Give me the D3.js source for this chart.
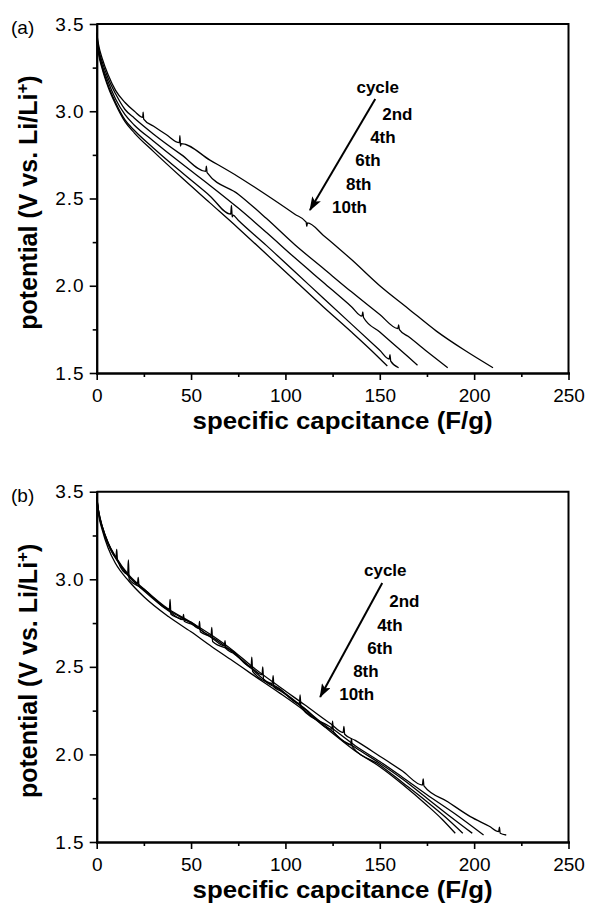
<!DOCTYPE html>
<html>
<head>
<meta charset="utf-8">
<script src="https://cdn.jsdelivr.net/npm/d3@7"></script>
<style>
  body { margin: 0; background: #fff; }
  svg { display: block; }
  text { font-family: "Liberation Sans", Arial, Helvetica, sans-serif; }
</style>
</head>
<body>
<svg id="chart" width="589" height="905"></svg>
<script>
// cycle labels and tick values
var cycles = ["2nd", "4th", "6th", "8th", "10th"];
var xTicks = [0, 50, 100, 150, 200, 250];
var xMinor = [25, 75, 125, 175, 225];
var yTicks = [1.5, 2.0, 2.5, 3.0, 3.5];
var yMinor = [1.75, 2.25, 2.75, 3.25];

// panel (a): [capacitance F/g, potential V]
var a2nd = [[0,3.45],[1,3.38],[3,3.30],[6,3.21],[10,3.12],[15,3.05],[20,3.00],[24.4,2.965],[24.6,2.995],[24.9,2.955],[30,2.915],[37,2.865],[43.8,2.82],[44.1,2.86],[44.4,2.80],[44.8,2.815],[60,2.72],[75,2.625],[90,2.52],[105,2.41],[111,2.365],[111.3,2.34],[111.7,2.36],[120,2.29],[135,2.15],[150,2.00],[165,1.87],[180,1.74],[195,1.63],[210,1.53]];
var a4th = [[0,3.44],[1,3.36],[3,3.28],[6,3.19],[10,3.10],[15,3.01],[20,2.96],[30,2.87],[45,2.75],[57.8,2.655],[58.1,2.685],[58.5,2.648],[75,2.525],[90,2.385],[105,2.235],[120,2.10],[135,1.965],[150,1.835],[159.6,1.755],[160,1.775],[160.4,1.748],[165,1.71],[176,1.615],[186,1.53]];
var a6th = [[0,3.43],[1,3.35],[3,3.26],[6,3.17],[10,3.07],[15,2.98],[20,2.92],[30,2.83],[45,2.70],[60,2.575],[75,2.445],[90,2.305],[105,2.16],[120,2.02],[135,1.88],[140.6,1.826],[141,1.85],[141.4,1.818],[150,1.735],[160,1.64],[170,1.545]];
var a8th = [[0,3.42],[1,3.34],[3,3.25],[6,3.15],[10,3.05],[15,2.95],[20,2.89],[30,2.79],[45,2.65],[60,2.515],[71,2.41],[71.4,2.46],[71.8,2.395],[72.2,2.405],[75,2.375],[90,2.23],[105,2.08],[120,1.93],[135,1.78],[150,1.63],[155,1.58],[155.4,1.605],[155.8,1.568],[160,1.53]];
var a10th = [[0,3.42],[1,3.33],[3,3.24],[6,3.14],[10,3.04],[15,2.94],[20,2.875],[30,2.77],[45,2.62],[60,2.475],[75,2.33],[90,2.18],[105,2.03],[120,1.88],[135,1.735],[145,1.635],[154,1.54]];

// panel (b)
var b2nd = [[0,3.47],[1,3.39],[3,3.30],[6,3.21],[10,3.13],[17,3.025],[25,2.945],[38,2.83],[50,2.755],[61,2.68],[72,2.595],[82,2.505],[97,2.385],[110,2.285],[124,2.175],[130.6,2.125],[131,2.16],[131.4,2.115],[137,2.08],[150,1.99],[162,1.905],[172.6,1.825],[173,1.86],[173.4,1.82],[186,1.73],[198,1.645],[208,1.59],[213,1.56],[213.4,1.585],[213.8,1.55],[217,1.54]];
var b4th = [[0,3.47],[1,3.39],[3,3.30],[6,3.21],[10.2,3.125],[10.6,3.17],[11,3.11],[16.4,3.03],[16.8,3.11],[17.2,3.00],[25,2.945],[38.5,2.83],[38.9,2.885],[39.3,2.80],[50,2.755],[60.6,2.68],[61,2.725],[61.4,2.645],[72,2.59],[81.8,2.50],[82.2,2.555],[82.6,2.475],[97,2.375],[107.4,2.29],[107.8,2.34],[108.2,2.27],[124,2.155],[137,2.05],[150,1.96],[162,1.87],[175,1.77],[190,1.66],[205,1.54]];
var b6th = [[0,3.47],[1,3.385],[3,3.295],[6,3.205],[10,3.125],[17,3.02],[21.6,2.975],[22,3.01],[22.4,2.965],[25,2.94],[38,2.825],[50,2.75],[54.1,2.72],[54.5,2.76],[54.9,2.70],[61,2.67],[72,2.585],[82,2.495],[87.6,2.455],[88,2.50],[88.4,2.43],[97,2.37],[110,2.265],[124.6,2.145],[125,2.19],[125.4,2.13],[137,2.04],[150,1.95],[162,1.86],[175,1.75],[188,1.64],[199,1.55]];
var b8th = [[0,3.46],[1,3.38],[3,3.29],[6,3.20],[10,3.12],[17,3.015],[25,2.935],[38,2.82],[45.6,2.77],[46,2.80],[46.4,2.76],[50,2.745],[61,2.665],[67.6,2.62],[68,2.65],[68.4,2.605],[72,2.58],[82,2.49],[93.1,2.405],[93.5,2.45],[93.9,2.385],[97,2.365],[110,2.26],[124,2.14],[134.6,2.055],[135,2.09],[135.4,2.045],[150,1.94],[162,1.84],[175,1.73],[185,1.64],[194,1.55]];
var b10th = [[0,3.46],[1,3.37],[3,3.28],[6,3.18],[10,3.09],[17,2.99],[25,2.90],[38,2.787],[50,2.70],[61,2.615],[72,2.535],[82,2.46],[97,2.35],[110,2.25],[124,2.13],[137,2.02],[150,1.93],[162,1.83],[175,1.71],[183,1.63],[190,1.55]];

var svg = d3.select("#chart");

svg.append("defs").append("marker")
  .attr("id", "head")
  .attr("markerUnits", "userSpaceOnUse")
  .attr("markerWidth", 14).attr("markerHeight", 10)
  .attr("viewBox", "0 0 14 10")
  .attr("refX", 13).attr("refY", 5)
  .attr("orient", "auto")
  .append("path").attr("d", "M0,0 L14,5 L0,10 L3,5 Z").attr("fill", "#000");

function drawPanel(p) {
  var x = d3.scaleLinear().domain([0, 250]).range([p.left, p.right]);
  var y = d3.scaleLinear().domain([1.5, 3.5]).range([p.bottom, p.top]);
  var g = svg.append("g");

  // curves
  var line = d3.line()
    .x(function (d) { return x(d[0]); })
    .y(function (d) { return y(d[1]); })
    .curve(d3.curveMonotoneX);
  g.append("g")
    .selectAll("path")
    .data(p.series)
    .enter()
    .append("path")
    .attr("d", line)
    .attr("fill", "none")
    .attr("stroke", "#000")
    .attr("stroke-width", 1.3);

  // frame (top + right)
  g.append("path")
    .attr("d", "M" + x(0) + "," + y(3.5) + "H" + x(250) + "V" + y(1.5))
    .attr("fill", "none").attr("stroke", "#000").attr("stroke-width", 2);

  // axes
  g.append("g").attr("transform", "translate(0," + y(1.5) + ")")
    .call(d3.axisBottom(x).tickValues(xTicks).tickSize(7).tickPadding(9).tickSizeOuter(0));
  g.append("g").attr("transform", "translate(0," + y(1.5) + ")")
    .call(d3.axisBottom(x).tickValues(xMinor).tickSize(4).tickFormat("").tickSizeOuter(0));
  var ya = g.append("g").attr("transform", "translate(" + x(0) + ",0)")
    .call(d3.axisLeft(y).tickValues(yTicks).tickSize(7).tickPadding(5).tickSizeOuter(0)
      .tickFormat(d3.format(".1f")));
  g.append("g").attr("transform", "translate(" + x(0) + ",0)")
    .call(d3.axisLeft(y).tickValues(yMinor).tickSize(4).tickFormat("").tickSizeOuter(0));
  g.selectAll(".domain").attr("stroke-width", 2).attr("stroke-linecap", "square");
  g.selectAll(".tick line").attr("stroke-width", 1.6);
  g.selectAll(".tick text").attr("font-size", 19).attr("font-family", "Liberation Sans, Arial, sans-serif");
  ya.selectAll(".tick text").attr("letter-spacing", 1);

  // axis titles
  g.append("text")
    .attr("x", (x(0) + x(250)) / 2 + 10)
    .attr("y", y(1.5) + 56)
    .attr("text-anchor", "middle")
    .attr("font-size", 24).attr("font-weight", "bold")
    .attr("textLength", 300).attr("lengthAdjust", "spacingAndGlyphs")
    .text("specific capcitance (F/g)");

  var yt = g.append("text")
    .attr("transform", "translate(37," + ((y(1.5) + y(3.5)) / 2 + 4) + ") rotate(-90)")
    .attr("text-anchor", "middle")
    .attr("font-size", 25).attr("font-weight", "bold");
  yt.append("tspan").text("potential (V vs. Li/Li");
  yt.append("tspan").attr("dy", -9).attr("font-size", 17).text("+");
  yt.append("tspan").attr("dy", 9).text(")");

  // panel tag
  g.append("text")
    .attr("x", 11).attr("y", y(3.5) + 10)
    .attr("font-size", 19)
    .text(p.tag);

  // cycle annotation
  g.append("text")
    .attr("x", x(p.note.title[0])).attr("y", y(p.note.title[1]))
    .attr("text-anchor", "middle")
    .attr("font-size", 17).attr("font-weight", "bold")
    .text("cycle");
  g.append("g")
    .selectAll("text")
    .data(cycles)
    .enter()
    .append("text")
    .attr("x", function (d, i) { return x(p.note.labels[i][0]); })
    .attr("y", function (d, i) { return y(p.note.labels[i][1]); })
    .attr("font-size", 17).attr("font-weight", "bold")
    .text(function (d) { return d; });
  g.append("line")
    .attr("x1", x(p.note.arrow[0][0])).attr("y1", y(p.note.arrow[0][1]))
    .attr("x2", x(p.note.arrow[1][0])).attr("y2", y(p.note.arrow[1][1]))
    .attr("stroke", "#000").attr("stroke-width", 2)
    .attr("marker-end", "url(#head)");
}

drawPanel({
  tag: "(a)", left: 96.7, right: 568.5, top: 24, bottom: 373,
  series: [a2nd, a4th, a6th, a8th, a10th],
  note: {
    title: [148.9, 3.104],
    labels: [[151.3, 2.95], [144.9, 2.818], [137, 2.686], [132.1, 2.549], [124.7, 2.417]],
    arrow: [[147.6, 3.07], [113, 2.434]]
  }
});

drawPanel({
  tag: "(b)", left: 96.7, right: 568.5, top: 491.7, bottom: 842,
  series: [b2nd, b4th, b6th, b8th, b10th],
  note: {
    title: [152.9, 3.019],
    labels: [[155, 2.842], [148.6, 2.705], [143.3, 2.574], [135.9, 2.442], [128.5, 2.311]],
    arrow: [[151.3, 2.979], [118.4, 2.328]]
  }
});
</script>
</body>
</html>
